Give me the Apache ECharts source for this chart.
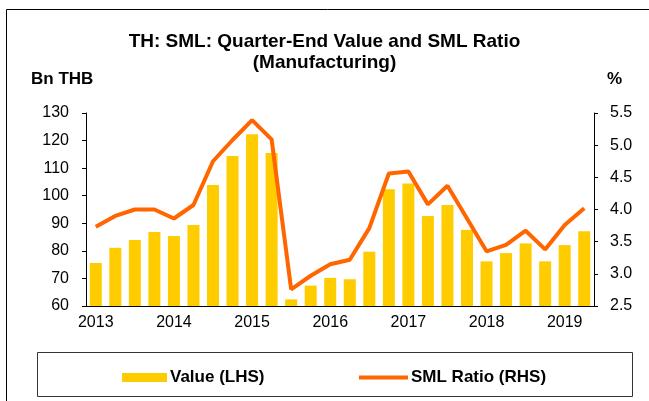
<!DOCTYPE html>
<html>
<head>
<meta charset="UTF-8">
<title>TH SML Manufacturing</title>
<script src="https://cdn.jsdelivr.net/npm/echarts@6/dist/echarts.min.js"></script>
<style>
  html, body { margin: 0; padding: 0; background: #fff; }
  #main { width: 649px; height: 401px; }
</style>
</head>
<body>
<div id="main"></div>
<script type="text/javascript">

    // quarter-end, 2013Q1 .. 2019Q2
    var quarters = ['2013Q1', '2013Q2', '2013Q3', '2013Q4',
        '2014Q1', '2014Q2', '2014Q3', '2014Q4',
        '2015Q1', '2015Q2', '2015Q3', '2015Q4',
        '2016Q1', '2016Q2', '2016Q3', '2016Q4',
        '2017Q1', '2017Q2', '2017Q3', '2017Q4',
        '2018Q1', '2018Q2', '2018Q3', '2018Q4',
        '2019Q1', '2019Q2'];

    // Bn THB (LHS)
    var valueList = [75.6, 81.1, 83.9, 86.8, 85.4, 89.4, 103.9, 114.4, 122.3, 115.5,
        62.4, 67.4, 70.2, 69.7, 79.7, 102.3, 104.4, 92.6, 96.6, 87.6,
        76.2, 79.2, 82.7, 76.2, 82.1, 87.1];

    // % (RHS)
    var ratioList = [3.73, 3.90, 4.00, 4.00, 3.86, 4.07, 4.75, 5.08, 5.39, 5.09,
        2.76, 2.97, 3.15, 3.22, 3.71, 4.56, 4.59, 4.08, 4.37, 3.86,
        3.35, 3.45, 3.67, 3.38, 3.76, 4.02];

    var myChart = echarts.init(document.getElementById('main'));
    var font = 'Liberation Sans, Arial, sans-serif';

    option = {
        animation: false,
        textStyle: { fontFamily: font, color: '#000' },
        title: {
            text: 'TH: SML: Quarter-End Value and SML Ratio\n(Manufacturing)',
            left: 'center',
            top: 26,
            textStyle: { fontSize: 19, fontWeight: 'bold', color: '#000', lineHeight: 21, fontFamily: font }
        },
        graphic: [
            { type: 'line', shape: { x1: 6.5, y1: 9.5, x2: 649, y2: 9.5 }, style: { stroke: '#000', lineWidth: 1 } },
            { type: 'line', shape: { x1: 6.5, y1: 9.5, x2: 6.5, y2: 401 }, style: { stroke: '#000', lineWidth: 1 } },
            { type: 'rect', shape: { x: 37.5, y: 352.5, width: 595, height: 44 }, style: { fill: 'none', stroke: '#333', lineWidth: 1 } },
            { type: 'text', left: 31, top: 71, style: { text: 'Bn THB', font: 'bold 17px ' + font, fill: '#000' } },
            { type: 'text', left: 607, top: 71, style: { text: '%', font: 'bold 17px ' + font, fill: '#000' } }
        ],
        legend: [
            {
                left: 117, top: 364,
                itemWidth: 45, itemHeight: 9, itemGap: 0,
                data: [{ name: 'Value (LHS)', icon: 'rect' }],
                textStyle: { fontSize: 17, fontWeight: 'bold', color: '#000', padding: [0, 0, 0, -2] }
            },
            {
                left: 354, top: 364,
                itemWidth: 49, itemHeight: 4, itemGap: 0,
                data: [{ name: 'SML Ratio (RHS)', icon: 'rect' }],
                textStyle: { fontSize: 17, fontWeight: 'bold', color: '#000', padding: [0, 0, 0, -2] }
            }
        ],
        grid: {
            left: 86,
            right: 55,
            top: 113,
            bottom: 95
        },
        xAxis: {
            type: 'category',
            data: quarters,
            boundaryGap: true,
            axisLine: { lineStyle: { color: '#000' } },
            axisTick: { interval: 3, length: 5, alignWithLabel: false, lineStyle: { color: '#000' } },
            axisLabel: {
                interval: 3, margin: 9, fontSize: 16, color: '#000',
                formatter: function (v) { return v.slice(0, 4); }
            }
        },
        yAxis: [
            {
                type: 'value', min: 60, max: 130, interval: 10,
                splitLine: { show: false },
                axisLine: { show: true, lineStyle: { color: '#000' } },
                axisTick: { show: true, length: 4, lineStyle: { color: '#000' } },
                axisLabel: { fontSize: 16, color: '#000', margin: 17 }
            },
            {
                type: 'value', min: 2.5, max: 5.5, interval: 0.5,
                splitLine: { show: false },
                axisLine: { show: true, lineStyle: { color: '#000' } },
                axisTick: { show: true, length: 4, lineStyle: { color: '#000' } },
                axisLabel: {
                    fontSize: 16, color: '#000', margin: 16,
                    formatter: function (v) { return v.toFixed(1); }
                }
            }
        ],
        series: [
            {
                name: 'Value (LHS)',
                type: 'bar',
                yAxisIndex: 0,
                barWidth: 12,
                itemStyle: { color: '#FFCC00' },
                data: valueList
            },
            {
                name: 'SML Ratio (RHS)',
                type: 'line',
                yAxisIndex: 1,
                symbol: 'none',
                lineStyle: { color: '#FF6600', width: 4 },
                itemStyle: { color: '#FF6600' },
                data: ratioList
            }
        ]
    };

    myChart.setOption(option);
</script>
</body>
</html>
